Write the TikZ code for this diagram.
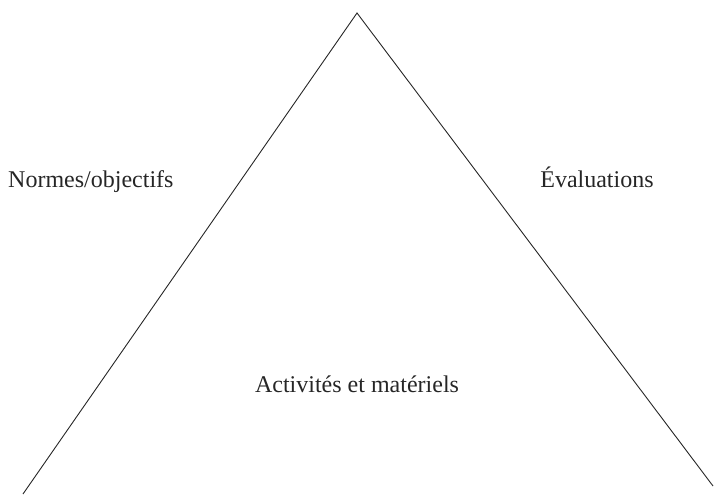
\documentclass[tikz,border=0pt]{standalone}
\usepackage{fontspec}
\setmainfont{Liberation Serif}
\begin{document}
\begin{tikzpicture}[x=1pt,y=-1pt,
  edge/.style={draw=black!85,line width=0.9pt},
  label/.style={font=\fontsize{24}{28}\selectfont,text=black!85,inner sep=0pt,anchor=base}]
\useasboundingbox (0,0) rectangle (715,495);
\coordinate (apex) at (357,13);
\coordinate (left) at (23,494);
\coordinate (right) at (713,486);
\draw[edge] (left) -- (apex) -- (right);
\node[label,anchor=base west] (norm) at (8,187) {Normes/objectifs};
\node[label] (eval) at (597,187) {Évaluations};
\node[label] (act) at (357,392) {Activités et matériels};
\end{tikzpicture}
\end{document}
